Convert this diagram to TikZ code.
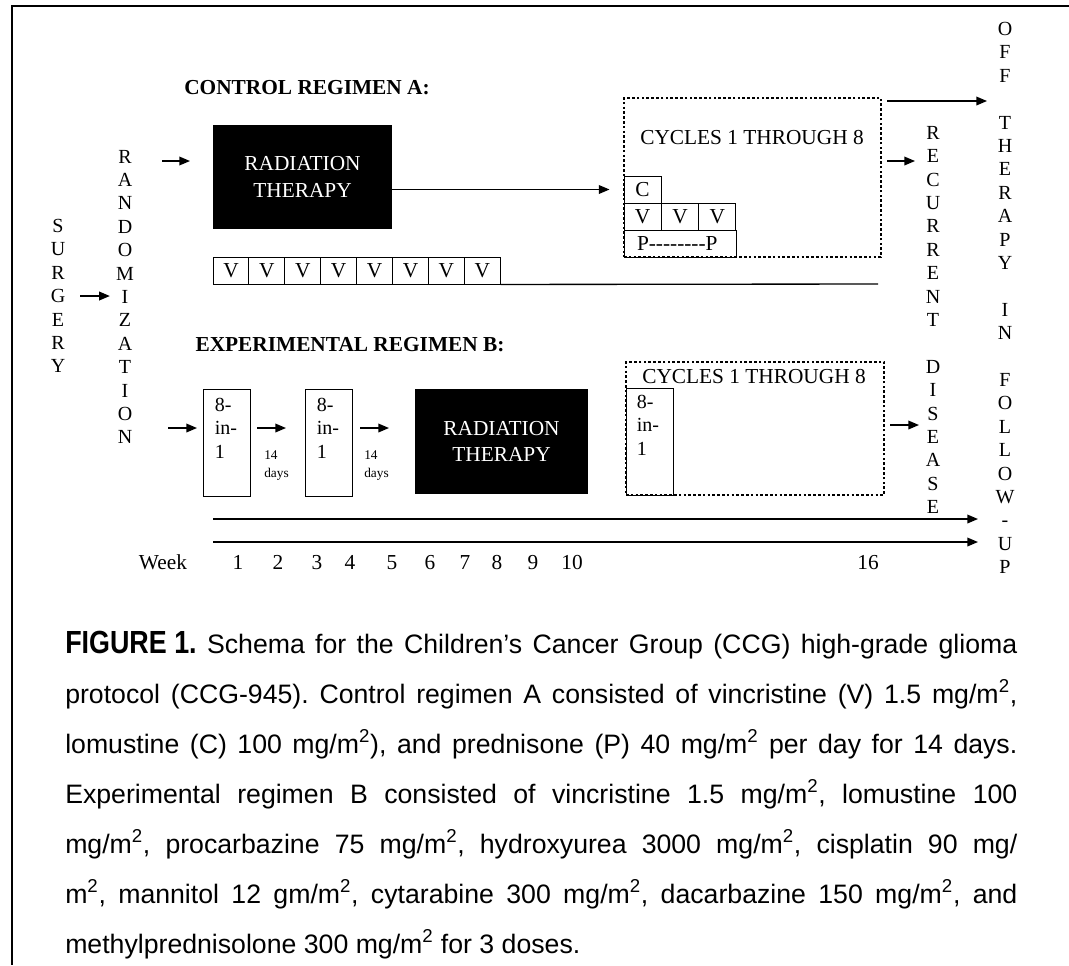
\documentclass[tikz,border=0pt]{standalone}
\usepackage{fontspec}
\setmainfont{Liberation Serif}
\newfontfamily\capfont{Liberation Sans}
\newfontfamily\capboldfont[FakeStretch=0.84]{Liberation Sans}
\usetikzlibrary{positioning, arrows.meta}
\frenchspacing

\begin{document}
\begin{tikzpicture}[x=0.75pt, y=-0.75pt,
    cell/.style={draw, line width=0.7pt, inner sep=0pt, font=\fontsize{16}{19}\selectfont},
    darkbox/.style={fill=black, text=white, align=center, inner sep=0pt, font=\fontsize{16}{20}\selectfont},
    dotbox/.style={draw, line width=0.8pt, dash pattern=on 2pt off 1.6pt},
    letters/.style={align=center, inner sep=0pt, font=\fontsize{15}{17.55}\selectfont},
    title/.style={inner sep=0pt, font=\fontsize{16}{19}\selectfont\bfseries},
    plain/.style={inner sep=0pt, font=\fontsize{16}{19}\selectfont},
    boxtxt/.style={align=left, inner sep=0pt, font=\fontsize{15}{17.6}\selectfont},
    days/.style={align=left, inner sep=0pt, font=\fontsize{10}{13.5}\selectfont},
    arr/.style={line width=1pt, -{Triangle[length=8pt, width=6.5pt]}},
    capline/.style={anchor=base west, inner sep=0pt, font=\capfont\fontsize{20}{24}\selectfont}]
    \useasboundingbox (0,0) rectangle (1069,965);
    \draw[line width=1.5pt] (1069,6) -- (12,6) -- (12,965);

    % surgery and randomization
    \node[letters] (surg) at (58,296) {S\\U\\R\\G\\E\\R\\Y};
    \node[letters] (rand) at (125,297) {R\\A\\N\\D\\O\\M\\I\\Z\\A\\T\\I\\O\\N};
    \draw[arr, shorten <=11pt, shorten >=4.5pt] (surg.east) -- (rand.west |- surg.east);

    % control regimen A
    \node[title] (ctrl) at (307,88) {CONTROL REGIMEN A:};
    \node[darkbox, minimum width=134.25pt, minimum height=78pt] (radA) at (302.5,177) {RADIATION\\THERAPY};
    \foreach \i in {1,...,8}
        \node[cell, minimum width=26.9pt, minimum height=20.25pt] (vA\i) at (195.05+35.9*\i,270.5) {V};
    \coordinate (vEnd) at (878,284);
    \draw[line width=1pt] (vA8.south east) -- (vEnd);
    \coordinate (aS) at (162,161);
    \coordinate (aE) at (190,161);
    \draw[arr] (aS) -- (aE);

    \node[dotbox, minimum width=192.75pt, minimum height=119.25pt] (cycA) at (752.5,177.5) {};
    \node[plain] (cycAtxt) at (752,138) {CYCLES 1 THROUGH 8};
    \node[cell, minimum width=27.75pt, minimum height=20.25pt] (cC) at (642.5,189.5) {C};
    \foreach \i in {1,2,3}
        \node[cell, minimum width=28pt, minimum height=20.25pt] (vC\i) at (605.35+37.3*\i,216.5) {V};
    \node[cell, minimum width=84pt, minimum height=20.25pt, text width=64.5pt, align=left] (pRow) at (680,243.5) {P-{}-{}-{}-{}-{}-{}-{}-P};
    \draw[arr, shorten >=10.5pt] (radA.east |- cC.west) -- (cC.west);

    % outcomes
    \node[letters] (rec) at (933,320) {R\\E\\C\\U\\R\\R\\E\\N\\T\\\mbox{}\\D\\I\\S\\E\\A\\S\\E};
    \node[letters] (off) at (1005,298) {O\\F\\F\\\mbox{}\\T\\H\\E\\R\\A\\P\\Y\\\mbox{}\\I\\N\\\mbox{}\\F\\O\\L\\L\\O\\W\\-\\U\\P};
    \coordinate (oS) at (887,101);
    \coordinate (oE) at (987,101);
    \draw[arr] (oS) -- (oE);
    \coordinate (rS) at (887,161);
    \coordinate (rE) at (915,161);
    \draw[arr] (rS) -- (rE);

    % experimental regimen B
    \node[title] (expt) at (350,345) {EXPERIMENTAL REGIMEN B:};
    \node[cell, minimum width=35.25pt, minimum height=80.25pt] (b1) at (226.5,442.5) {};
    \node[boxtxt, below right=6.75pt and 9pt of b1.north west] (b1t) {8-\\in-\\1};
    \node[cell, minimum width=35.25pt, minimum height=80.25pt] (b2) at (328.5,442.5) {};
    \node[boxtxt, below right=6.75pt and 9pt of b2.north west] (b2t) {8-\\in-\\1};
    \node[darkbox, minimum width=129.75pt, minimum height=78.75pt] (radB) at (501.5,441.5) {RADIATION\\THERAPY};
    \node[days, anchor=north west] (d1) at (264,450) {14\\days};
    \node[days, anchor=north west] (d2) at (364,450) {14\\days};
    \coordinate (bS) at (168,428);
    \coordinate (bE) at (197,428);
    \draw[arr] (bS) -- (bE);
    \coordinate (cS) at (257,428);
    \coordinate (cE) at (286,428);
    \draw[arr] (cS) -- (cE);
    \coordinate (dS) at (360,428);
    \coordinate (dE) at (389,428);
    \draw[arr] (dS) -- (dE);

    \node[dotbox, minimum width=193.5pt, minimum height=99.75pt] (cycB) at (755,428.5) {};
    \node[plain] (cycBtxt) at (754,376) {CYCLES 1 THROUGH 8};
    \node[cell, minimum width=35.25pt, minimum height=80.25pt] (b3) at (649.5,441.5) {};
    \node[boxtxt, below right=5.25pt and 8.25pt of b3.north west] (b3t) {8-\\in-\\1};
    \coordinate (eS) at (890,425);
    \coordinate (eE) at (919,425);
    \draw[arr] (eS) -- (eE);

    % time axis
    \coordinate (t1S) at (213,519);
    \coordinate (t1E) at (978,519);
    \draw[arr] (t1S) -- (t1E);
    \coordinate (t2S) at (213,542);
    \coordinate (t2E) at (978,542);
    \draw[arr] (t2S) -- (t2E);
    \node[plain, anchor=base] (wk) at (163,569) {Week};
    \foreach \n/\x in {1/238,2/278,3/317,4/350,5/392,6/430,7/465,8/497,9/533,10/572,16/868}
        \node[plain, anchor=base] (wk\n) at (\x,569) {\n};

    % caption
    \node[capline] (cap1) at (65,653) {\makebox[714pt][s]{\mbox{\capboldfont\bfseries\fontsize{24}{24}\selectfont FIGURE 1.} Schema for the Children’s Cancer Group (CCG) high-grade glioma}};
    \node[capline] (cap2) at (65,703) {\makebox[714pt][s]{protocol (CCG-945). Control regimen A consisted of vincristine (V) 1.5 mg/m\textsuperscript{2},}};
    \node[capline] (cap3) at (65,753) {\makebox[714pt][s]{lomustine (C) 100 mg/m\textsuperscript{2}), and prednisone (P) 40 mg/m\textsuperscript{2} per day for 14 days.}};
    \node[capline] (cap4) at (65,803) {\makebox[714pt][s]{Experimental regimen B consisted of vincristine 1.5 mg/m\textsuperscript{2}, lomustine 100}};
    \node[capline] (cap5) at (65,853) {\makebox[714pt][s]{mg/m\textsuperscript{2}, procarbazine 75 mg/m\textsuperscript{2}, hydroxyurea 3000 mg/m\textsuperscript{2}, cisplatin 90 mg/}};
    \node[capline] (cap6) at (65,903) {\makebox[714pt][s]{m\textsuperscript{2}, mannitol 12 gm/m\textsuperscript{2}, cytarabine 300 mg/m\textsuperscript{2}, dacarbazine 150 mg/m\textsuperscript{2}, and}};
    \node[capline] (cap7) at (65,953) {methylprednisolone 300 mg/m\textsuperscript{2} for 3 doses.};
\end{tikzpicture}
\end{document}
